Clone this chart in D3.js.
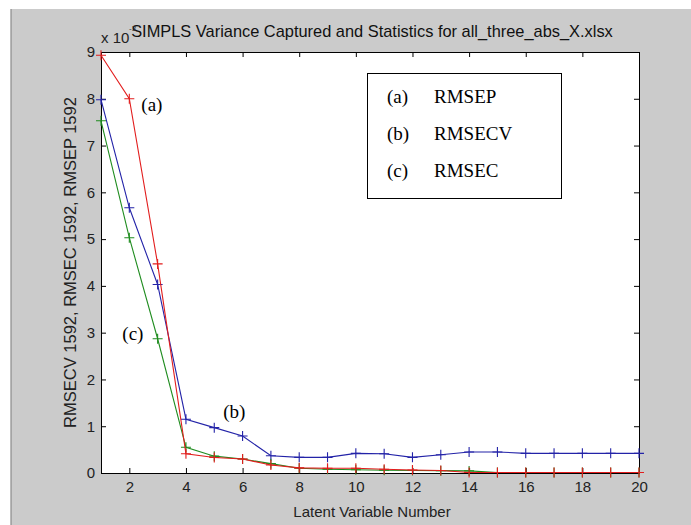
<!DOCTYPE html>
<html>
<head>
<meta charset="utf-8">
<script src="https://cdn.jsdelivr.net/npm/d3@7"></script>
<style>
  html, body { margin: 0; padding: 0; background: #ffffff; }
  svg { display: block; }
</style>
</head>
<body>
<script>
// ---- data ----
const latentVars = [1,2,3,4,5,6,7,8,9,10,11,12,13,14,15,16,17,18,19,20];
const rmsecv = [7.98, 5.67, 4.03, 1.15, 0.97, 0.79, 0.37, 0.335, 0.335, 0.42, 0.41, 0.335, 0.39, 0.45, 0.45, 0.42, 0.42, 0.42, 0.42, 0.42];
const rmsec  = [7.53, 5.03, 2.87, 0.55, 0.36, 0.30, 0.20, 0.10, 0.08, 0.07, 0.06, 0.055, 0.05, 0.045, 0.01, 0.01, 0.01, 0.01, 0.01, 0.01];
const rmsep  = [8.93, 8.00, 4.47, 0.41, 0.33, 0.30, 0.17, 0.11, 0.10, 0.10, 0.08, 0.065, 0.055, 0.01, 0.01, 0.01, 0.01, 0.01, 0.01, 0.01];
const xTicks = [2,4,6,8,10,12,14,16,18,20];
const yTicks = [0,1,2,3,4,5,6,7,8,9];
const seriesNames = ["RMSECV", "RMSEC", "RMSEP"];
const legendTags = ["(a)", "(b)", "(c)"];
const legendNames = ["RMSEP", "RMSECV", "RMSEC"];
const titleText = "SIMPLS Variance Captured and Statistics for all_three_abs_X.xlsx";
const xLabel = "Latent Variable Number";
const yLabel = "RMSECV 1592, RMSEC 1592, RMSEP 1592";

const colors = { RMSECV: "#2323a8", RMSEC: "#1f8c1f", RMSEP: "#e21d1d" };
const seriesData = { RMSECV: rmsecv, RMSEC: rmsec, RMSEP: rmsep };

// ---- layout ----
const W = 691, H = 525;
const L = 101, R = 639, T = 52, B = 473;

const svg = d3.select("body").append("svg").attr("width", W).attr("height", H);

// figure background
svg.append("rect").attr("x", 11).attr("y", 9).attr("width", W - 11).attr("height", H - 9).attr("fill", "#cbcbcb");
svg.append("line").attr("x1", 11).attr("x2", 11).attr("y1", 9).attr("y2", H).attr("stroke", "#8a8a8a").attr("stroke-width", 1.2);

const x = d3.scaleLinear().domain([1, 20]).range([L, R]);
const y = d3.scaleLinear().domain([0, 9]).range([B, T]);

// plot area
svg.append("rect").attr("x", L).attr("y", T).attr("width", R - L).attr("height", B - T).attr("fill", "#ffffff");

// axes
const fontSans = "'Liberation Sans', Arial, sans-serif";
const axB = svg.append("g").attr("transform", `translate(0,${B})`)
  .call(d3.axisBottom(x).tickValues(xTicks).tickSize(-5).tickPadding(8).tickFormat(d3.format("d")));
const axT = svg.append("g").attr("transform", `translate(0,${T})`)
  .call(d3.axisTop(x).tickValues(xTicks).tickSize(-5).tickFormat(""));
const axL = svg.append("g").attr("transform", `translate(${L},0)`)
  .call(d3.axisLeft(y).tickValues(yTicks).tickSize(-5).tickPadding(6).tickFormat(d3.format("d")));
const axR = svg.append("g").attr("transform", `translate(${R},0)`)
  .call(d3.axisRight(y).tickValues(yTicks).tickSize(-5).tickFormat(""));
[axB, axT, axL, axR].forEach(g => {
  g.select(".domain").attr("stroke", "#000").attr("stroke-width", 1);
  g.selectAll(".tick line").attr("stroke", "#000").attr("stroke-width", 1);
  g.selectAll("text").attr("font-family", fontSans).attr("font-size", 15).attr("fill", "#222");
});

// series lines and + markers
const line = d3.line().x((d, i) => x(latentVars[i])).y(d => y(d));
seriesNames.forEach(name => {
  const vals = seriesData[name];
  const g = svg.append("g");
  g.append("path").datum(vals).attr("d", line).attr("fill", "none")
    .attr("stroke", colors[name]).attr("stroke-width", 1.1);
  const arm = 5;
  g.selectAll("path.mk").data(vals).join("path").attr("class", "mk")
    .attr("d", (d, i) => {
      const cx = x(latentVars[i]), cy = y(d);
      return `M${cx - arm},${cy}H${cx + arm}M${cx},${cy - arm}V${cy + arm}`;
    })
    .attr("stroke", colors[name]).attr("stroke-width", 1.1).attr("fill", "none");
});

// title + exponent
svg.append("text").attr("x", (L + R) / 2 + 2).attr("y", 37).attr("text-anchor", "middle")
  .attr("font-family", fontSans).attr("font-size", 16.4).attr("fill", "#111").text(titleText);
svg.append("text").attr("x", 101).attr("y", 43).attr("font-family", fontSans)
  .attr("font-size", 15).attr("fill", "#222").text("x 10");
svg.append("text").attr("x", 129).attr("y", 31).attr("font-family", fontSans)
  .attr("font-size", 8).attr("fill", "#333").text("-3");

// axis labels
svg.append("text").attr("x", (L + R) / 2 + 2).attr("y", 517).attr("text-anchor", "middle")
  .attr("font-family", fontSans).attr("font-size", 15).attr("fill", "#222").text(xLabel);
svg.append("text").attr("transform", `translate(76,${(T + B) / 2}) rotate(-90)`)
  .attr("text-anchor", "middle").attr("font-family", fontSans).attr("font-size", 16.5)
  .attr("fill", "#222").text(yLabel);

// annotations
const fontSerif = "'Liberation Serif', 'Times New Roman', serif";
const ann = [
  { t: "(a)", lv: 2, v: 8.0, dx: 12, dy: 12 },
  { t: "(c)", lv: 2, v: 2.85, dx: -7, dy: 0 },
  { t: "(b)", lv: 5, v: 0.97, dx: 9, dy: -10 }
];
ann.forEach(a => {
  svg.append("text").attr("x", x(a.lv) + a.dx).attr("y", y(a.v) + a.dy)
    .attr("font-family", fontSerif).attr("font-size", 19).attr("fill", "#000").text(a.t);
});

// legend box
const lg = svg.append("g");
lg.append("rect").attr("x", 367.5).attr("y", 73.5).attr("width", 194).attr("height", 125)
  .attr("fill", "#fff").attr("stroke", "#000").attr("stroke-width", 1);
legendTags.forEach((t, i) => {
  const yy = 103 + i * 37;
  lg.append("text").attr("x", 387).attr("y", yy).attr("font-family", fontSerif)
    .attr("font-size", 19).attr("fill", "#000").text(t);
  lg.append("text").attr("x", 434).attr("y", yy).attr("font-family", fontSerif)
    .attr("font-size", 19).attr("fill", "#000").text(legendNames[i]);
});
</script>
</body>
</html>
